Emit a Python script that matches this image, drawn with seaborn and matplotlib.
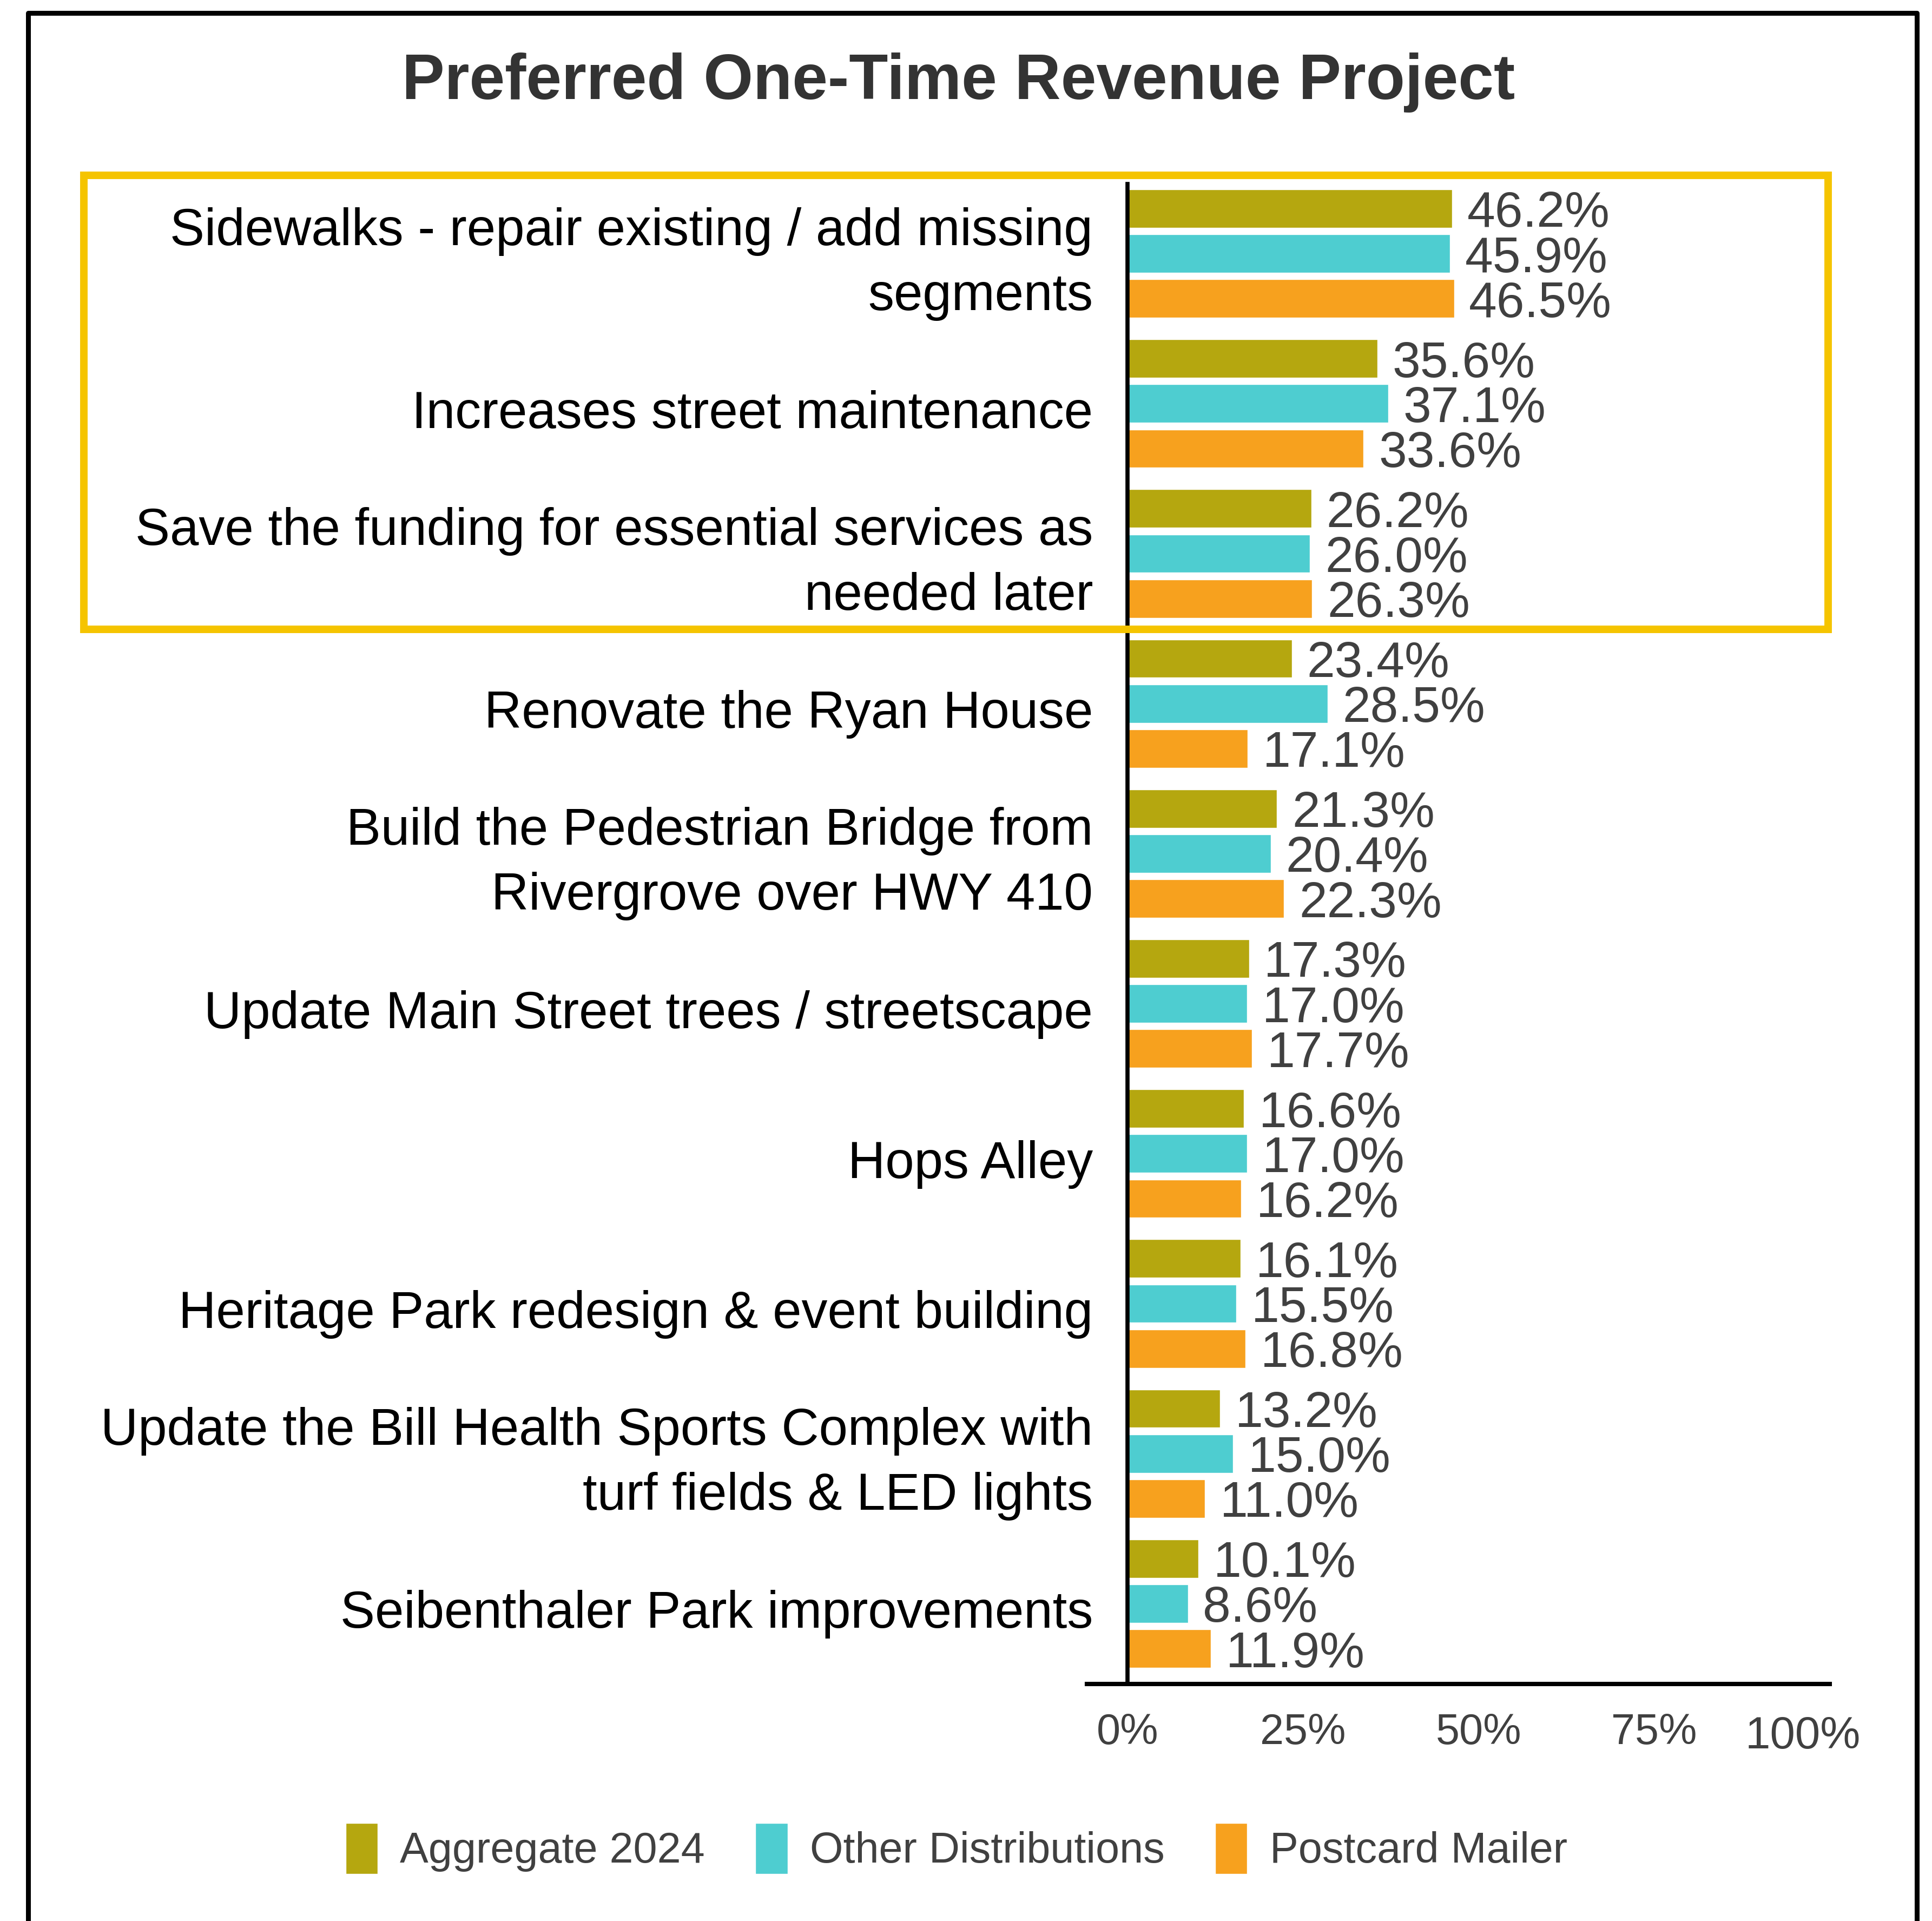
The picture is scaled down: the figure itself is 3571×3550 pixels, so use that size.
import seaborn as sns
import matplotlib.pyplot as plt
import matplotlib.transforms as mtransforms
from matplotlib.patches import Rectangle
from matplotlib.lines import Line2D
from matplotlib.ticker import FixedLocator
import pandas as pd
import numpy as np

projects = [
    "Sidewalks - repair existing / add missing\nsegments",
    "Increases street maintenance",
    "Save the funding for essential services as\nneeded later",
    "Renovate the Ryan House",
    "Build the Pedestrian Bridge from\nRivergrove over HWY 410",
    "Update Main Street trees / streetscape",
    "Hops Alley",
    "Heritage Park redesign & event building",
    "Update the Bill Health Sports Complex with\nturf fields & LED lights",
    "Seibenthaler Park improvements",
]
series = ["Aggregate 2024", "Other Distributions", "Postcard Mailer"]
aggregate_2024 = [46.2, 35.6, 26.2, 23.4, 21.3, 17.3, 16.6, 16.1, 13.2, 10.1]
other_distributions = [45.9, 37.1, 26.0, 28.5, 20.4, 17.0, 17.0, 15.5, 15.0, 8.6]
postcard_mailer = [46.5, 33.6, 26.3, 17.1, 22.3, 17.7, 16.2, 16.8, 11.0, 11.9]
x_ticks = [0, 25, 50, 75, 100]
x_tick_labels = ["0%", "25%", "50%", "75%", "100%"]

colors = ["#B5A70F", "#4ECDD0", "#F7A11E"]

df = pd.DataFrame({
    "Project": projects * 3,
    "Source": np.repeat(series, len(projects)),
    "Share": aggregate_2024 + other_distributions + postcard_mailer,
})

sns.set_style("white")
plt.rcParams['font.family'] = ['Liberation Sans', 'DejaVu Sans']

W, H = 3571, 3550
fig = plt.figure(figsize=(W / 100, H / 100), dpi=100)
ax = fig.add_axes([2009 / W, 1 - 3112 / H, (3382 - 2009) / W, (3112 - 340) / H])

sns.barplot(data=df, y="Project", x="Share", hue="Source", order=projects,
            hue_order=series, palette=colors, saturation=1, width=0.9, gap=0.15,
            orient="h", ax=ax)

for c in ax.containers:
    ax.bar_label(c, fmt="%.1f%%", padding=20, fontsize=67, color="#404040")

# bars sit a little above the middle of each band in the original
nudge = mtransforms.ScaledTranslation(0, 0.10, fig.dpi_scale_trans)
for c in ax.containers:
    for p in c:
        p.set_transform(ax.transData + nudge)

# axes styling
ax.set_xlim(-5.78, 100)
ax.set_ylim(9.5, -0.5)
ax.set_xlabel("")
ax.set_ylabel("")
for s in ["top", "right"]:
    ax.spines[s].set_visible(False)
ax.spines["left"].set_position(("data", 0))
ax.spines["left"].set_linewidth(5.5)
ax.spines["bottom"].set_linewidth(5.8)
ax.spines["left"].set_color("black")
ax.spines["bottom"].set_color("black")

ax.set_xticks(x_ticks)
ax.set_xticklabels(x_tick_labels)
ax.tick_params(axis="x", length=0, pad=38, labelsize=57, labelcolor="#404040")
ax.tick_params(axis="y", which="major", length=0, pad=46, labelsize=69, labelcolor="black")
ax.yaxis.set_minor_locator(FixedLocator(np.arange(0.5, 9, 1)))
ax.tick_params(axis="y", which="minor", length=54, width=4.3, color="black")
down = mtransforms.ScaledTranslation(0, -0.09, fig.dpi_scale_trans)
for lbl in ax.get_yticklabels():
    if "\n" in lbl.get_text():
        lbl.set_linespacing(1.43)
        lbl.set_verticalalignment("center")
        lbl.set_transform(lbl.get_transform() + down)

lbl100 = ax.get_xticklabels()[-1]
lbl100.set_fontsize(60)
lbl100.set_transform(lbl100.get_transform() +
                     mtransforms.ScaledTranslation(-0.5, -0.05, fig.dpi_scale_trans))

# legend below
handles, labels = ax.get_legend_handles_labels()
ax.get_legend().remove()
fig.legend(handles, labels, loc="center", bbox_to_anchor=(0.495, 1 - 3416 / H),
           ncol=3, frameon=False, fontsize=57, handlelength=0.75, handleheight=1.45,
           handletextpad=0.52, columnspacing=1.18, labelcolor="#404040")

fig.text(0.496, 1 - 152 / H, "Preferred One-Time Revenue Project", ha="center",
         va="center", fontsize=85, fontweight="bold", color="#333333")

# outer frame (open at the bottom)
fig.add_artist(Line2D([52 / W, 52 / W, 3543 / W, 3543 / W], [0, 1 - 24 / H, 1 - 24 / H, 0],
                      color="black", linewidth=6.5, transform=fig.transFigure))

# highlight box around the top three projects
fig.add_artist(Rectangle((155 / W, 1 - 1163 / H), (3379 - 155) / W, (1163 - 324) / H,
                         transform=fig.transFigure, fill=False, edgecolor="#F5C400",
                         linewidth=10))

fig.savefig("out.png", dpi=100)
